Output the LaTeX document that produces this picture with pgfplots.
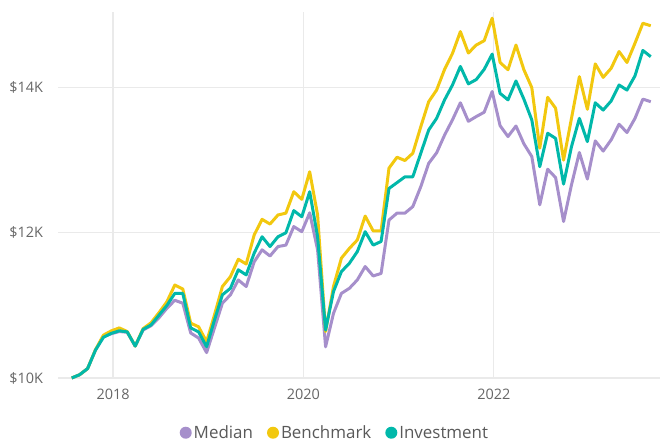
\documentclass[border=0pt]{standalone}
\usepackage{fontspec}
\setmainfont{Open Sans}
\usepackage{pgfplots}
\pgfplotsset{compat=1.18}
\usepackage{pgfplotstable}
\definecolor{medc}{HTML}{A68FCB}
\definecolor{benc}{HTML}{F2C80F}
\definecolor{invc}{HTML}{01B8AA}
\definecolor{gridc}{HTML}{EAEAEA}
\definecolor{labc}{HTML}{666666}
\definecolor{legc}{HTML}{595959}
\pgfplotstableread{
x med bench inv
2017.566 10000 10000 10000
2017.649 10045 10045 10045
2017.733 10130 10130 10130
2017.816 10385 10390 10385
2017.899 10570 10590 10560
2017.983 10610 10650 10615
2018.066 10640 10690 10650
2018.149 10630 10640 10635
2018.233 10440 10440 10440
2018.316 10660 10680 10670
2018.399 10720 10760 10730
2018.483 10830 10900 10865
2018.566 10960 11050 11000
2018.649 11070 11280 11165
2018.733 11030 11225 11165
2018.816 10620 10755 10690
2018.899 10550 10705 10635
2018.983 10350 10500 10430
2019.066 10690 10870 10800
2019.149 11030 11260 11145
2019.233 11145 11395 11235
2019.316 11350 11635 11490
2019.399 11260 11570 11420
2019.483 11600 11970 11720
2019.566 11765 12185 11945
2019.649 11680 12120 11810
2019.733 11810 12245 11945
2019.816 11830 12270 12000
2019.899 12085 12565 12305
2019.983 12015 12460 12220
2020.066 12275 12840 12565
2020.149 11765 12245 11945
2020.233 10430 10640 10660
2020.316 10890 11260 11190
2020.399 11165 11650 11465
2020.483 11235 11785 11580
2020.566 11350 11900 11740
2020.649 11535 12230 12015
2020.733 11405 12025 11830
2020.816 11440 12025 11880
2020.899 12175 12890 12610
2020.983 12270 13040 12690
2021.066 12270 12995 12770
2021.149 12360 13095 12770
2021.233 12635 13460 13095
2021.316 12955 13805 13415
2021.399 13100 13965 13575
2021.483 13345 14250 13830
2021.566 13555 14470 14035
2021.649 13790 14770 14290
2021.733 13535 14475 14050
2021.816 13600 14585 14110
2021.899 13660 14645 14250
2021.983 13945 14955 14460
2022.066 13475 14345 13920
2022.149 13325 14245 13830
2022.233 13470 14585 14090
2022.316 13225 14245 13840
2022.399 13050 14000 13555
2022.483 12385 13165 12910
2022.566 12875 13865 13370
2022.649 12760 13715 13300
2022.733 12155 13000 12670
2022.816 12660 13575 13185
2022.899 13105 14150 13575
2022.983 12740 13700 13255
2023.066 13265 14325 13790
2023.149 13125 14140 13690
2023.233 13280 14265 13815
2023.316 13495 14495 14035
2023.399 13380 14345 13965
2023.483 13575 14610 14160
2023.566 13840 14885 14510
2023.649 13805 14850 14425
}\data
\begin{document}
\begin{tikzpicture}
\path[use as bounding box] (0,0) rectangle (660bp,445bp);
\begin{axis}[
  at={(58bp,67bp)}, anchor=south west,
  scale only axis, width=602bp, height=366bp,
  xmin=2017.422, xmax=2023.746, ymin=10000, ymax=15040,
  scaled x ticks=false, scaled y ticks=false,
  xtick={2018,2020,2022}, xticklabels={2018,2020,2022},
  ytick={10000,12000,14000}, yticklabels={\$10K,\$12K,\$14K},
  grid=major, major grid style={draw=gridc, line width=1.4bp},
  axis line style={draw=none}, tick style={draw=none},
  ticklabel style={font=\fontsize{14.5}{17}\selectfont, text=labc, inner sep=0pt},
  yticklabel style={anchor=east}, yticklabel shift=14.7bp,
  xticklabel style={anchor=north}, xticklabel shift=11bp,
  clip=false,
  legend columns=3,
  legend style={draw=none, fill=none, at={(0.460,-0.1495)}, anchor=center,
    font=\fontsize{17}{20}\selectfont, text=legc,
    nodes={inner xsep=2bp, inner ysep=0bp},
    /tikz/every even column/.append style={column sep=12bp}},
  legend image code/.code={\fill[#1,draw=none] (6bp,0bp) circle (6bp);},
]
\addplot[color=medc, line width=3bp, line join=round, mark=none] table[x=x,y=med] {\data};
\addlegendentry{Median}
\addplot[color=benc, line width=3bp, line join=round, mark=none] table[x=x,y=bench] {\data};
\addlegendentry{Benchmark}
\addplot[color=invc, line width=3bp, line join=round, mark=none] table[x=x,y=inv] {\data};
\addlegendentry{Investment}
\end{axis}
\end{tikzpicture}
\end{document}
